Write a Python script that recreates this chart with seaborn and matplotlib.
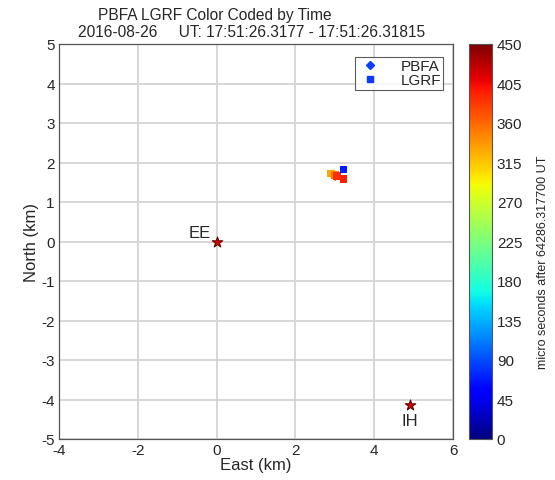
import numpy as np
import pandas as pd
import matplotlib
matplotlib.use("Agg")
import matplotlib.pyplot as plt
import seaborn as sns
from matplotlib.lines import Line2D

# ---- data ----
pbfa_east = [2.95, 3.02]
pbfa_north = [1.70, 1.66]
pbfa_time = [300, 370]

lgrf_east = [2.90, 3.00, 3.06, 3.22, 3.22]
lgrf_north = [1.72, 1.69, 1.66, 1.82, 1.58]
lgrf_time = [330, 350, 385, 70, 395]

station_names = ["EE", "IH"]
station_east = [0.0, 4.9]
station_north = [0.0, -4.15]

x_ticks = [-4, -2, 0, 2, 4, 6]
y_ticks = [-5, -4, -3, -2, -1, 0, 1, 2, 3, 4, 5]
cbar_ticks = [0, 45, 90, 135, 180, 225, 270, 315, 360, 405, 450]

sns.set_style("white")
plt.rcParams["font.family"] = ["Liberation Sans", "DejaVu Sans"]

fig = plt.figure(figsize=(5.55, 4.81), dpi=100)
ax = fig.add_axes([59/555, 41/481, 394/555, 395/481])
cax = fig.add_axes([469/555, 41/481, 23/555, 395/481])

ax.set_axisbelow(True)
ax.grid(True, color="#d4d4d4", linewidth=1.3)

jet = matplotlib.colormaps["jet"]
norm = plt.Normalize(0, 450)
dfp = pd.DataFrame({"east": pbfa_east, "north": pbfa_north, "t": pbfa_time})
dfl = pd.DataFrame({"east": lgrf_east, "north": lgrf_north, "t": lgrf_time})
sns.scatterplot(data=dfp, x="east", y="north", hue="t", palette=jet, hue_norm=norm,
                marker="D", s=28, linewidth=0, legend=False, ax=ax, zorder=3)
sns.scatterplot(data=dfl, x="east", y="north", hue="t", palette=jet, hue_norm=norm,
                marker="s", s=30, linewidth=0, legend=False, ax=ax, zorder=3)

dfs = pd.DataFrame({"east": station_east, "north": station_north})
sns.scatterplot(data=dfs, x="east", y="north", marker="*", s=65, color="#e00000",
                edgecolor="#500000", linewidth=0.7, legend=False, ax=ax, zorder=4)
ax.text(station_east[0] - 0.15, station_north[0] + 0.03, station_names[0],
        ha="right", va="bottom", fontsize=12)
ax.text(station_east[1], station_north[1] - 0.18, station_names[1],
        ha="center", va="top", fontsize=12)

ax.set_xlim(-4, 6)
ax.set_ylim(-5, 5)
ax.set_xticks(x_ticks)
ax.set_yticks(y_ticks)
ax.set_xticklabels([str(v) for v in x_ticks])
ax.set_yticklabels([str(v) for v in y_ticks])
ax.tick_params(direction="in", length=4, width=0.8, color="#555555", labelsize=11, pad=3)
for sp in ax.spines.values():
    sp.set_color("#555555")
    sp.set_linewidth(0.9)
ax.set_xlabel("East (km)", fontsize=12, labelpad=0)
ax.set_ylabel("North (km)", fontsize=12, labelpad=2)

handles = [Line2D([], [], marker="D", color="#0a3cff", linestyle="none", markersize=4.5),
           Line2D([], [], marker="s", color="#0a3cff", linestyle="none", markersize=5)]
leg = ax.legend(handles, ["PBFA", "LGRF"], loc="upper right", bbox_to_anchor=(0.975, 0.967),
                fontsize=11, frameon=True, fancybox=False, handlelength=1.6,
                handletextpad=1.2, borderpad=0.15, labelspacing=0.0, borderaxespad=0)
leg.get_frame().set_edgecolor("#333333")
leg.get_frame().set_linewidth(0.8)

sm = matplotlib.cm.ScalarMappable(norm=norm, cmap=jet)
cb = fig.colorbar(sm, cax=cax, ticks=cbar_ticks)
cb.ax.tick_params(direction="in", length=4, width=0.8, color="#555555", labelsize=11)
cb.outline.set_edgecolor("#555555")
cb.set_label("micro seconds after 64286.317700 UT", fontsize=9.0)
cb.ax.yaxis.set_label_coords(2.95, 0.45)

fig.text(98/555, 1 - 20/481, "PBFA LGRF Color Coded by Time", ha="left", va="baseline", fontsize=11.2)
fig.text(78/555, 1 - 37/481, "2016-08-26     UT: 17:51:26.3177 - 17:51:26.31815",
         ha="left", va="baseline", fontsize=11.2)

fig.savefig("out.png", dpi=100)
